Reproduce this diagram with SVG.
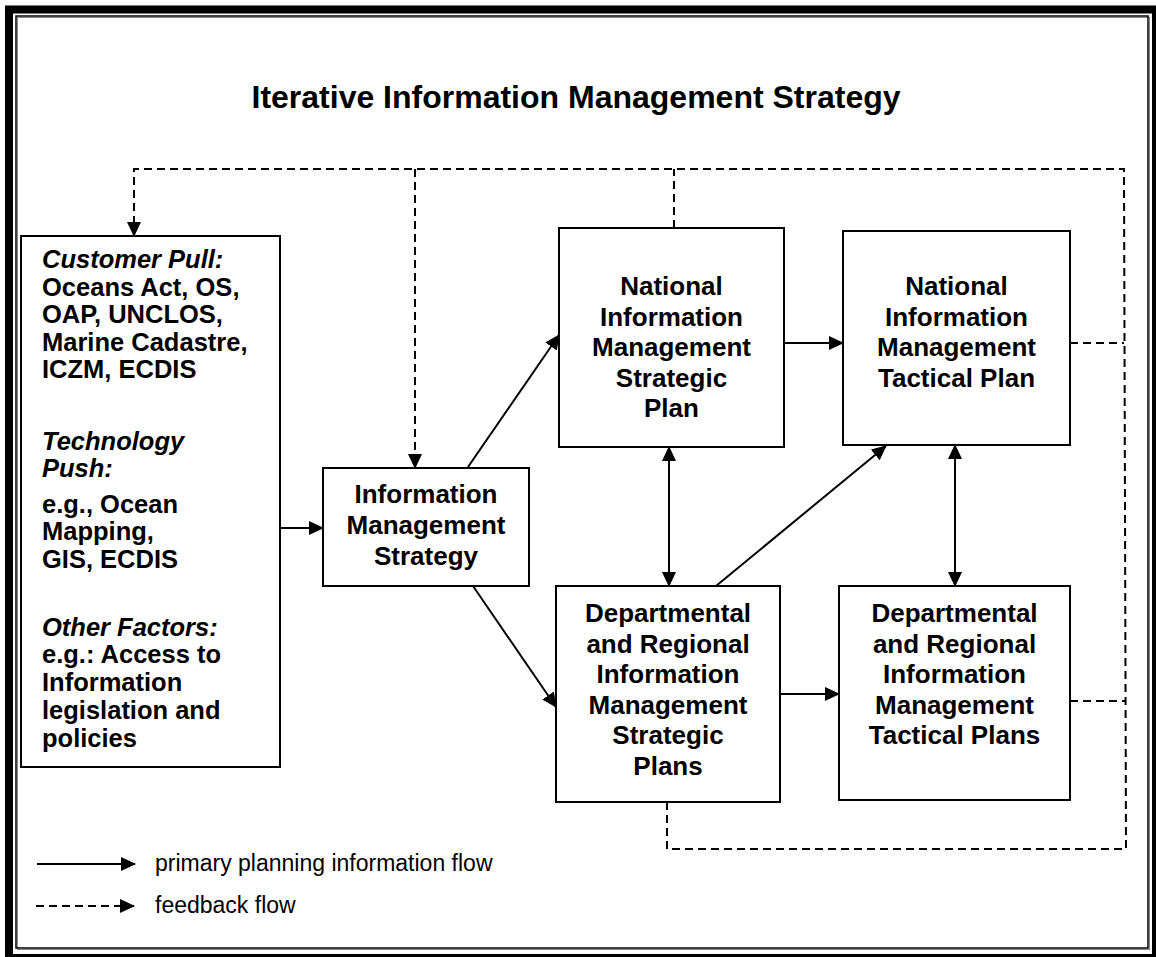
<svg xmlns="http://www.w3.org/2000/svg" width="1156" height="957" viewBox="0 0 1156 957">
<style>
.box{fill:#fff;stroke:#000;stroke-width:2}
.lbl{font-family:"Liberation Sans",Arial,sans-serif;font-weight:bold;font-size:26px;text-anchor:middle;fill:#000}
.lt{font-family:"Liberation Sans",Arial,sans-serif;font-weight:bold;font-size:25.5px;fill:#000}
.it{font-style:italic}
.sol{fill:none;stroke:#000;stroke-width:2}
.dash{fill:none;stroke:#000;stroke-width:2;stroke-dasharray:8 5}
.leg{font-family:"Liberation Sans",Arial,sans-serif;font-size:23px;fill:#000}
</style>
<defs>
<marker id="ah" markerUnits="userSpaceOnUse" markerWidth="16" markerHeight="14" refX="14" refY="7" orient="auto-start-reverse" viewBox="0 0 16 14">
<path d="M0,0 L15,7 L0,14 z" fill="#000"/>
</marker>
</defs>
<rect width="1156" height="957" fill="#fff"/>
<g id="frame">
<rect x="9" y="9.5" width="1147" height="948.5" fill="none" stroke="#000" stroke-width="8"/>
<rect x="17.5" y="17.5" width="1132" height="932" fill="none" stroke="#888" stroke-width="1"/>
<rect x="16" y="16" width="1132" height="932" fill="none" stroke="#000" stroke-width="1.5"/>
</g>
<text x="576" y="108" font-family="Liberation Sans,Arial,sans-serif" font-weight="bold" font-size="32" text-anchor="middle">Iterative Information Management Strategy</text>
<g id="connectors">
<line class="sol" x1="280" y1="528" x2="323" y2="528" marker-end="url(#ah)"/>
<line class="sol" x1="468" y1="467" x2="559" y2="335" marker-end="url(#ah)"/>
<line class="sol" x1="473" y1="586" x2="556" y2="707" marker-end="url(#ah)"/>
<line class="sol" x1="784" y1="343" x2="843" y2="343" marker-end="url(#ah)"/>
<line class="sol" x1="669" y1="447" x2="669" y2="586" marker-start="url(#ah)" marker-end="url(#ah)"/>
<line class="sol" x1="716" y1="586" x2="886" y2="446" marker-end="url(#ah)"/>
<line class="sol" x1="955" y1="445" x2="955" y2="586" marker-start="url(#ah)" marker-end="url(#ah)"/>
<line class="sol" x1="780" y1="694" x2="839" y2="694" marker-end="url(#ah)"/>
<polyline class="dash" points="1070,343 1124,343"/>
<polyline class="dash" points="1070,701 1125,701"/>
<polyline class="dash" points="667,802 667,849 1126,849 1124,169 134,169 134,236" marker-end="url(#ah)"/>
<polyline class="dash" points="415,169 415,468" marker-end="url(#ah)"/>
<polyline class="dash" points="674,228 674,169"/>
</g>
<g id="n-factors">
<rect class="box" x="21" y="236" width="259" height="531"/>
<text class="lt it" x="42" y="268" font-size="24.5">Customer Pull:</text>
<text class="lt" x="42" y="295.5">Oceans Act, OS,</text>
<text class="lt" x="42" y="323">OAP, UNCLOS,</text>
<text class="lt" x="42" y="350.5">Marine Cadastre,</text>
<text class="lt" x="42" y="378">ICZM, ECDIS</text>
<text class="lt it" x="42" y="449.5">Technology</text>
<text class="lt it" x="42" y="477">Push:</text>
<text class="lt" x="42" y="512.5">e.g., Ocean</text>
<text class="lt" x="42" y="540">Mapping,</text>
<text class="lt" x="42" y="567.5">GIS, ECDIS</text>
<text class="lt it" x="42" y="635.5">Other Factors:</text>
<text class="lt" x="42" y="663">e.g.: Access to</text>
<text class="lt" x="42" y="690.5">Information</text>
<text class="lt" x="42" y="718.5">legislation and</text>
<text class="lt" x="42" y="746.5">policies</text>
</g>
<g id="n-ims">
<rect class="box" x="323" y="468" width="206" height="118"/>
<text class="lbl" x="426" y="503">Information</text>
<text class="lbl" x="426" y="534">Management</text>
<text class="lbl" x="426" y="565">Strategy</text>
</g>
<g id="n-nimsp">
<rect class="box" x="559" y="228" width="225" height="219"/>
<text class="lbl" x="671.5" y="295">National</text>
<text class="lbl" x="671.5" y="325.5">Information</text>
<text class="lbl" x="671.5" y="356">Management</text>
<text class="lbl" x="671.5" y="386.5">Strategic</text>
<text class="lbl" x="671.5" y="417">Plan</text>
</g>
<g id="n-nimtp">
<rect class="box" x="843" y="231" width="227" height="214"/>
<text class="lbl" x="956.5" y="295">National</text>
<text class="lbl" x="956.5" y="325.5">Information</text>
<text class="lbl" x="956.5" y="356">Management</text>
<text class="lbl" x="956.5" y="386.5">Tactical Plan</text>
</g>
<g id="n-drimsp">
<rect class="box" x="556" y="586" width="224" height="216"/>
<text class="lbl" x="668" y="622">Departmental</text>
<text class="lbl" x="668" y="652.5">and Regional</text>
<text class="lbl" x="668" y="683">Information</text>
<text class="lbl" x="668" y="713.5">Management</text>
<text class="lbl" x="668" y="744">Strategic</text>
<text class="lbl" x="668" y="774.5">Plans</text>
</g>
<g id="n-drimtp">
<rect class="box" x="839" y="586" width="231" height="214"/>
<text class="lbl" x="954.5" y="622">Departmental</text>
<text class="lbl" x="954.5" y="652.5">and Regional</text>
<text class="lbl" x="954.5" y="683">Information</text>
<text class="lbl" x="954.5" y="713.5">Management</text>
<text class="lbl" x="954.5" y="744">Tactical Plans</text>
</g>
<g id="legend">
<line class="sol" x1="37" y1="864" x2="135" y2="864" marker-end="url(#ah)"/>
<text class="leg" x="155" y="871">primary planning information flow</text>
<line class="dash" x1="36" y1="906" x2="134" y2="906" stroke-dasharray="8 6" marker-end="url(#ah)"/>
<text class="leg" x="155" y="913">feedback flow</text>
</g>
</svg>
